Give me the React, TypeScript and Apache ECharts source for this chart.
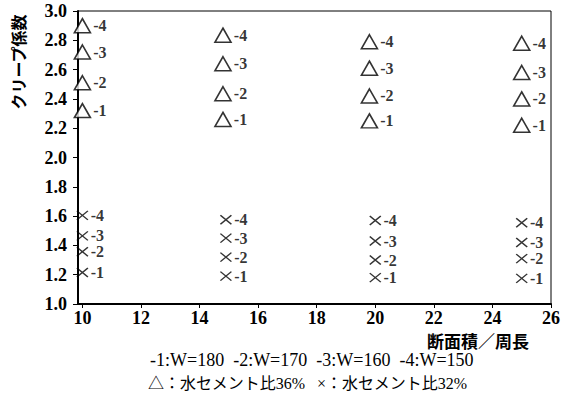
import React, { useEffect, useRef } from "react";
import * as echarts from "echarts";

// Tick labels
const xTicks = [10, 12, 14, 16, 18, 20, 22, 24, 26];
const yTicks = [1.0, 1.2, 1.4, 1.6, 1.8, 2.0, 2.2, 2.4, 2.6, 2.8, 3.0];

// Group labels (-1:W=180, -2:W=170, -3:W=160, -4:W=150)
const groupLabels = ["-1", "-2", "-3", "-4"];

// △ : water-cement ratio 36%
const triX = [10, 14.8, 19.8, 25];
const triW180 = [2.32, 2.26, 2.25, 2.22];
const triW170 = [2.51, 2.435, 2.42, 2.4];
const triW160 = [2.72, 2.64, 2.61, 2.58];
const triW150 = [2.9, 2.835, 2.79, 2.78];

// × : water-cement ratio 32%
const crsX = [10, 14.9, 20, 25];
const crsW180 = [1.215, 1.19, 1.18, 1.175];
const crsW170 = [1.357, 1.32, 1.3, 1.31];
const crsW160 = [1.465, 1.45, 1.43, 1.42];
const crsW150 = [1.605, 1.575, 1.57, 1.555];

const yName = "クリープ係数";
const xName = "断面積／周長";
const legendLine1 = "-1:W=180  -2:W=170  -3:W=160  -4:W=150";
const legendLine2 = "△：水セメント比36%   ×：水セメント比32%";

const SERIF = "Liberation Serif, Noto Sans CJK JP, serif";
const CJK = "Noto Sans CJK JP, sans-serif";

export default function App() {
  const ref = useRef<HTMLDivElement>(null);
  useEffect(() => {
    if (!ref.current) return;
    const chart = echarts.init(ref.current, null, { renderer: "svg" });
    const labelStyle = {
      show: true,
      position: "right" as const,
      distance: 2,
      fontFamily: SERIF,
      fontSize: 16,
      fontWeight: "bold" as const,
      color: "#000",
      lineHeight: 13,
    };
    const triSets = [triW180, triW170, triW160, triW150];
    const crsSets = [crsW180, crsW170, crsW160, crsW150];
    const series: any[] = [];
    triSets.forEach((vals, gi) => {
      series.push({
        type: "scatter",
        name: "tri" + groupLabels[gi],
        symbol: "triangle",
        symbolSize: [16, 14],
        itemStyle: { color: "#fff", borderColor: "#000", borderWidth: 1.6 },
        label: { ...labelStyle, formatter: () => groupLabels[gi] },
        data: vals.map((v, i) => [triX[i], v]),
      });
    });
    crsSets.forEach((vals, gi) => {
      series.push({
        type: "scatter",
        name: "crs" + groupLabels[gi],
        symbol: "path://M0,0L10,10M10,0L0,10",
        symbolSize: [11, 9],
        itemStyle: { color: "transparent", borderColor: "#000", borderWidth: 1.4 },
        label: { ...labelStyle, formatter: () => groupLabels[gi] },
        data: vals.map((v, i) => [crsX[i], v]),
      });
    });
    chart.setOption({
      animation: false,
      backgroundColor: "#fff",
      grid: {
        left: 78,
        right: 18,
        top: 11,
        bottom: 101,
        show: true,
        borderColor: "#000",
        borderWidth: 1,
        containLabel: false,
      },
      xAxis: {
        type: "value",
        min: 9.85,
        max: 26,
        axisLine: { show: true, lineStyle: { color: "#000", width: 2 } },
        axisTick: { show: true, customValues: xTicks, length: 4, lineStyle: { color: "#000" } },
        axisLabel: {
          customValues: xTicks,
          color: "#000",
          fontFamily: SERIF,
          fontSize: 18,
          fontWeight: "bold",
          margin: 5,
        },
        splitLine: { show: false },
      },
      yAxis: {
        type: "value",
        min: 1.0,
        max: 3.0,
        axisLine: { show: true, lineStyle: { color: "#000", width: 2 } },
        axisTick: { show: true, customValues: yTicks, length: 5, lineStyle: { color: "#000" } },
        axisLabel: {
          customValues: yTicks,
          color: "#000",
          fontFamily: SERIF,
          fontSize: 18,
          fontWeight: "bold",
          margin: 11,
          formatter: (v: number) => v.toFixed(1),
        },
        splitLine: { show: false },
      },
      graphic: [
        {
          type: "text",
          x: 18,
          y: 62,
          rotation: Math.PI / 2,
          style: {
            text: yName,
            font: `bold 16px ${CJK}`,
            fill: "#000",
            textAlign: "center",
            textVerticalAlign: "middle",
          },
        },
        {
          type: "text",
          x: 478,
          y: 340,
          style: {
            text: xName,
            font: `bold 17px ${CJK}`,
            fill: "#000",
            textAlign: "center",
            textVerticalAlign: "middle",
          },
        },
        {
          type: "text",
          x: 150,
          y: 360,
          style: {
            text: legendLine1,
            font: `18px ${SERIF}`,
            fill: "#000",
            textAlign: "left",
            textVerticalAlign: "middle",
          },
        },
        {
          type: "text",
          x: 148,
          y: 383,
          style: {
            text: legendLine2,
            font: `16px ${SERIF}`,
            fill: "#000",
            textAlign: "left",
            textVerticalAlign: "middle",
          },
        },
      ],
      series,
    });
    return () => chart.dispose();
  }, []);
  return (
    <div
      ref={ref}
      style={{ position: "absolute", left: 0, top: 0, width: 569, height: 405 }}
    />
  );
}
